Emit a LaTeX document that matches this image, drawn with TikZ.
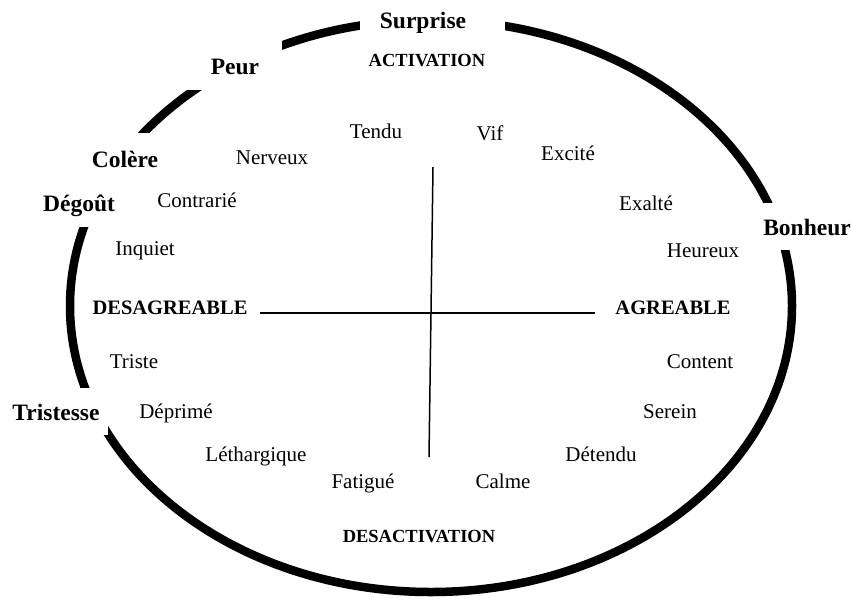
\documentclass[tikz,border=0pt]{standalone}
\usepackage{fontspec}
\setmainfont{Liberation Serif}
\tikzset{
  emo/.style={anchor=base, inner sep=0pt, font=\fontsize{23.5}{28}\selectfont\bfseries},
  axis/.style={anchor=base, inner sep=0pt, font=\fontsize{18.5}{22}\selectfont\bfseries},
  pole/.style={anchor=base, inner sep=0pt, font=\fontsize{20.5}{24}\selectfont\bfseries},
  word/.style={anchor=base, inner sep=0pt, font=\fontsize{21}{25}\selectfont},
  ring/.style={line width=8.5pt},
  gap/.style={fill=white},
  axisline/.style={line width=1.5pt}
}
\begin{document}
\begin{tikzpicture}[x=1pt,y=-1pt]
\useasboundingbox (0,0) rectangle (851,598);
% ring
\draw[ring] (431,306) ellipse [x radius=361pt, y radius=286pt];
% gaps in the ring behind the labels
\fill[gap] (360,0) rectangle (505,45);
\fill[gap] (180,30) rectangle (282,90);
\fill[gap] (0,133) rectangle (160,227);
\fill[gap] (740,203) rectangle (851,250);
\fill[gap] (0,388) rectangle (108,435);
% axes
\coordinate (top) at (433,167);
\coordinate (bot) at (429,457);
\coordinate (lft) at (260,313);
\coordinate (rgt) at (595,313);
\draw[axisline] (top) -- (bot);
\draw[axisline] (lft) -- (rgt);
% emotion labels
\node[emo] (surprise) at (423,28) {Surprise};
\node[emo] (peur) at (235,74) {Peur};
\node[emo] (colere) at (125,167) {Colère};
\node[emo] (degout) at (79,211) {Dégoût};
\node[emo] (bonheur) at (807,235) {Bonheur};
\node[emo] (tristesse) at (56,420) {Tristesse};
% axis labels
\node[axis] (activation) at (427,66) {ACTIVATION};
\node[axis] (desactivation) at (419,542) {DESACTIVATION};
\node[pole] (desagreable) at (170,314) {DESAGREABLE};
\node[pole] (agreable) at (673,314) {AGREABLE};
% words
\node[word] (tendu) at (376,138) {Tendu};
\node[word] (vif) at (490,140) {Vif};
\node[word] (nerveux) at (272,164) {Nerveux};
\node[word] (excite) at (568,160) {Excité};
\node[word] (contrarie) at (197,207) {Contrarié};
\node[word] (exalte) at (646,210) {Exalté};
\node[word] (inquiet) at (145,255) {Inquiet};
\node[word] (heureux) at (703,257) {Heureux};
\node[word] (triste) at (134,368) {Triste};
\node[word] (content) at (700,368) {Content};
\node[word] (deprime) at (176,418) {Déprimé};
\node[word] (serein) at (670,418) {Serein};
\node[word] (lethargique) at (256,461) {Léthargique};
\node[word] (detendu) at (601,461) {Détendu};
\node[word] (fatigue) at (363,488) {Fatigué};
\node[word] (calme) at (503,488) {Calme};
\end{tikzpicture}
\end{document}
